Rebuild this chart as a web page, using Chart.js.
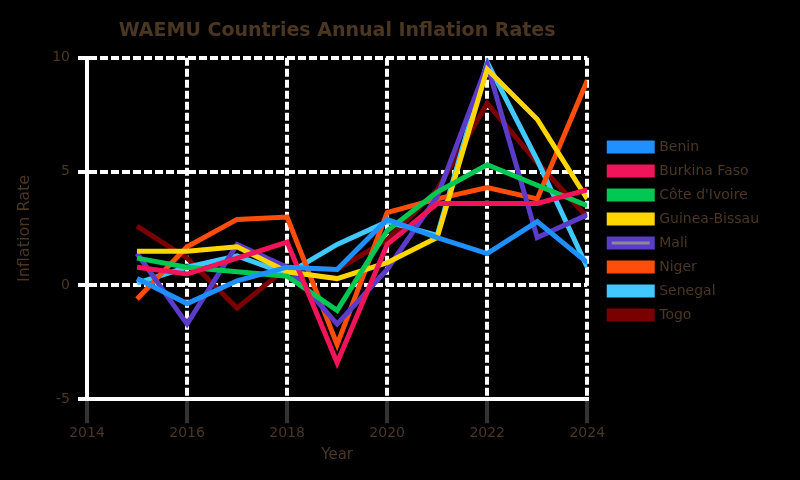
<!DOCTYPE html>
<html>
<head>
<meta charset="utf-8">
<script src="https://cdn.jsdelivr.net/npm/chart.js@4"></script>
<style>
  html, body { margin: 0; padding: 0; background: #000; }
  #wrap { width: 800px; height: 480px; }
</style>
</head>
<body>
<div id="wrap"><canvas id="inflationChart"></canvas></div>
<script>
// WAEMU inflation, values
const years = [2015, 2016, 2017, 2018, 2019, 2020, 2021, 2022, 2023, 2024];

const benin        = [0.3, -0.8, 0.2, 0.8, 0.7, 2.9, 2.1, 1.4, 2.8, 1.0];
const burkinaFaso  = [0.8, 0.5, 1.2, 1.9, -3.4, 1.8, 3.6, 3.6, 3.6, 4.2];
const coteDIvoire  = [1.2, 0.8, 0.6, 0.4, -1.1, 2.4, 4.1, 5.3, 4.4, 3.5];
const guineaBissau = [1.5, 1.5, 1.7, 0.6, 0.3, 1.0, 2.1, 9.5, 7.3, 3.8];
const mali         = [1.4, -1.7, 1.8, 0.8, -1.7, 0.7, 3.9, 9.7, 2.1, 3.1];
const niger        = [-0.6, 1.7, 2.9, 3.0, -2.6, 3.2, 3.8, 4.3, 3.8, 9.0];
const senegal      = [0.1, 0.8, 1.3, 0.5, 1.8, 2.8, 2.2, 9.8, 5.5, 0.8];
const togo         = [2.6, 1.2, -1.0, 0.8, 0.7, 2.0, 4.2, 8.0, 5.4, 3.0];

const countries = ['Benin', 'Burkina Faso', "Côte d'Ivoire", 'Guinea-Bissau', 'Mali', 'Niger', 'Senegal', 'Togo'];
const seriesValues = [benin, burkinaFaso, coteDIvoire, guineaBissau, mali, niger, senegal, togo];
const lineColors = ['#1e90ff', '#f0145a', '#00c853', '#ffd600', '#5a3cc8', '#ff4d0a', '#40c8ff', '#7a0000'];
const boxColors  = ['#1e90ff', '#f0145a', '#00c853', '#ffd600', '#8a8a96', '#ff4d0a', '#40c8ff', '#7a0000'];

const xTicks = [2014, 2016, 2018, 2020, 2022, 2024];
const yTicks = [-5, 0, 5, 10];

const textColor = '#4b3621';
const fontFamily = 'DejaVu Sans';

// nudge the legend a bit away from the plot (x) and up (y)
const legendShift = { x: 12, y: -7 };
const legendNudge = {
    id: 'legendNudge',
    afterLayout(chart) {
        const lg = chart.legend;
        lg.left += legendShift.x; lg.right += legendShift.x;
        lg.top += legendShift.y; lg.bottom += legendShift.y;
    }
};

const ctx = document.getElementById('inflationChart').getContext('2d');
const chart = new Chart(ctx, {
    type: 'line',
    data: {
        datasets: countries.map((name, i) => ({
            label: name,
            data: years.map((yr, j) => ({ x: yr, y: seriesValues[i][j] })),
            borderColor: lineColors[i],
            backgroundColor: boxColors[i],
            borderWidth: 5,
            pointRadius: 0,
            tension: 0,
            fill: false
        }))
    },
    options: {
        responsive: true,
        maintainAspectRatio: false,
        animation: false,
        layout: { padding: { left: 15, right: 43, top: 8, bottom: 12 } },
        scales: {
            x: {
                type: 'linear',
                min: xTicks[0],
                max: xTicks[xTicks.length - 1],
                afterBuildTicks: axis => { axis.ticks = xTicks.map(v => ({ value: v })); },
                ticks: {
                    color: textColor,
                    padding: 2,
                    maxRotation: 0,
                    font: { family: fontFamily, size: 14 },
                    callback: v => String(v)
                },
                grid: { color: '#ffffff', lineWidth: 4, tickColor: '#333333', tickLength: 24 },
                border: { display: true, color: '#ffffff', width: 4, dash: [8, 3] },
                title: {
                    display: true, text: 'Year', color: textColor,
                    font: { family: fontFamily, size: 15 },
                    padding: { top: 2, bottom: 4 }
                }
            },
            y: {
                min: yTicks[0],
                max: yTicks[yTicks.length - 1],
                afterBuildTicks: axis => { axis.ticks = yTicks.map(v => ({ value: v })); },
                ticks: {
                    color: textColor,
                    padding: 8,
                    font: { family: fontFamily, size: 14 }
                },
                grid: { color: '#ffffff', lineWidth: 4, tickColor: '#ffffff', tickLength: 9 },
                border: { display: true, color: '#ffffff', width: 4, dash: [8, 3] },
                title: {
                    display: true, text: 'Inflation Rate', color: textColor,
                    font: { family: fontFamily, size: 16 },
                    padding: { top: 0, bottom: 10 }
                }
            }
        },
        plugins: {
            title: {
                display: true,
                fullSize: false,
                text: 'WAEMU Countries Annual Inflation Rates',
                color: textColor,
                font: { family: fontFamily, size: 19, weight: 'bold' },
                padding: { top: 12, bottom: 15 }
            },
            legend: {
                display: true,
                position: 'right',
                labels: {
                    color: textColor,
                    boxWidth: 43,
                    boxHeight: 8,
                    padding: 10,
                    font: { family: fontFamily, size: 14 }
                }
            },
            tooltip: { enabled: false }
        }
    },
    plugins: [legendNudge]
});
</script>
</body>
</html>
